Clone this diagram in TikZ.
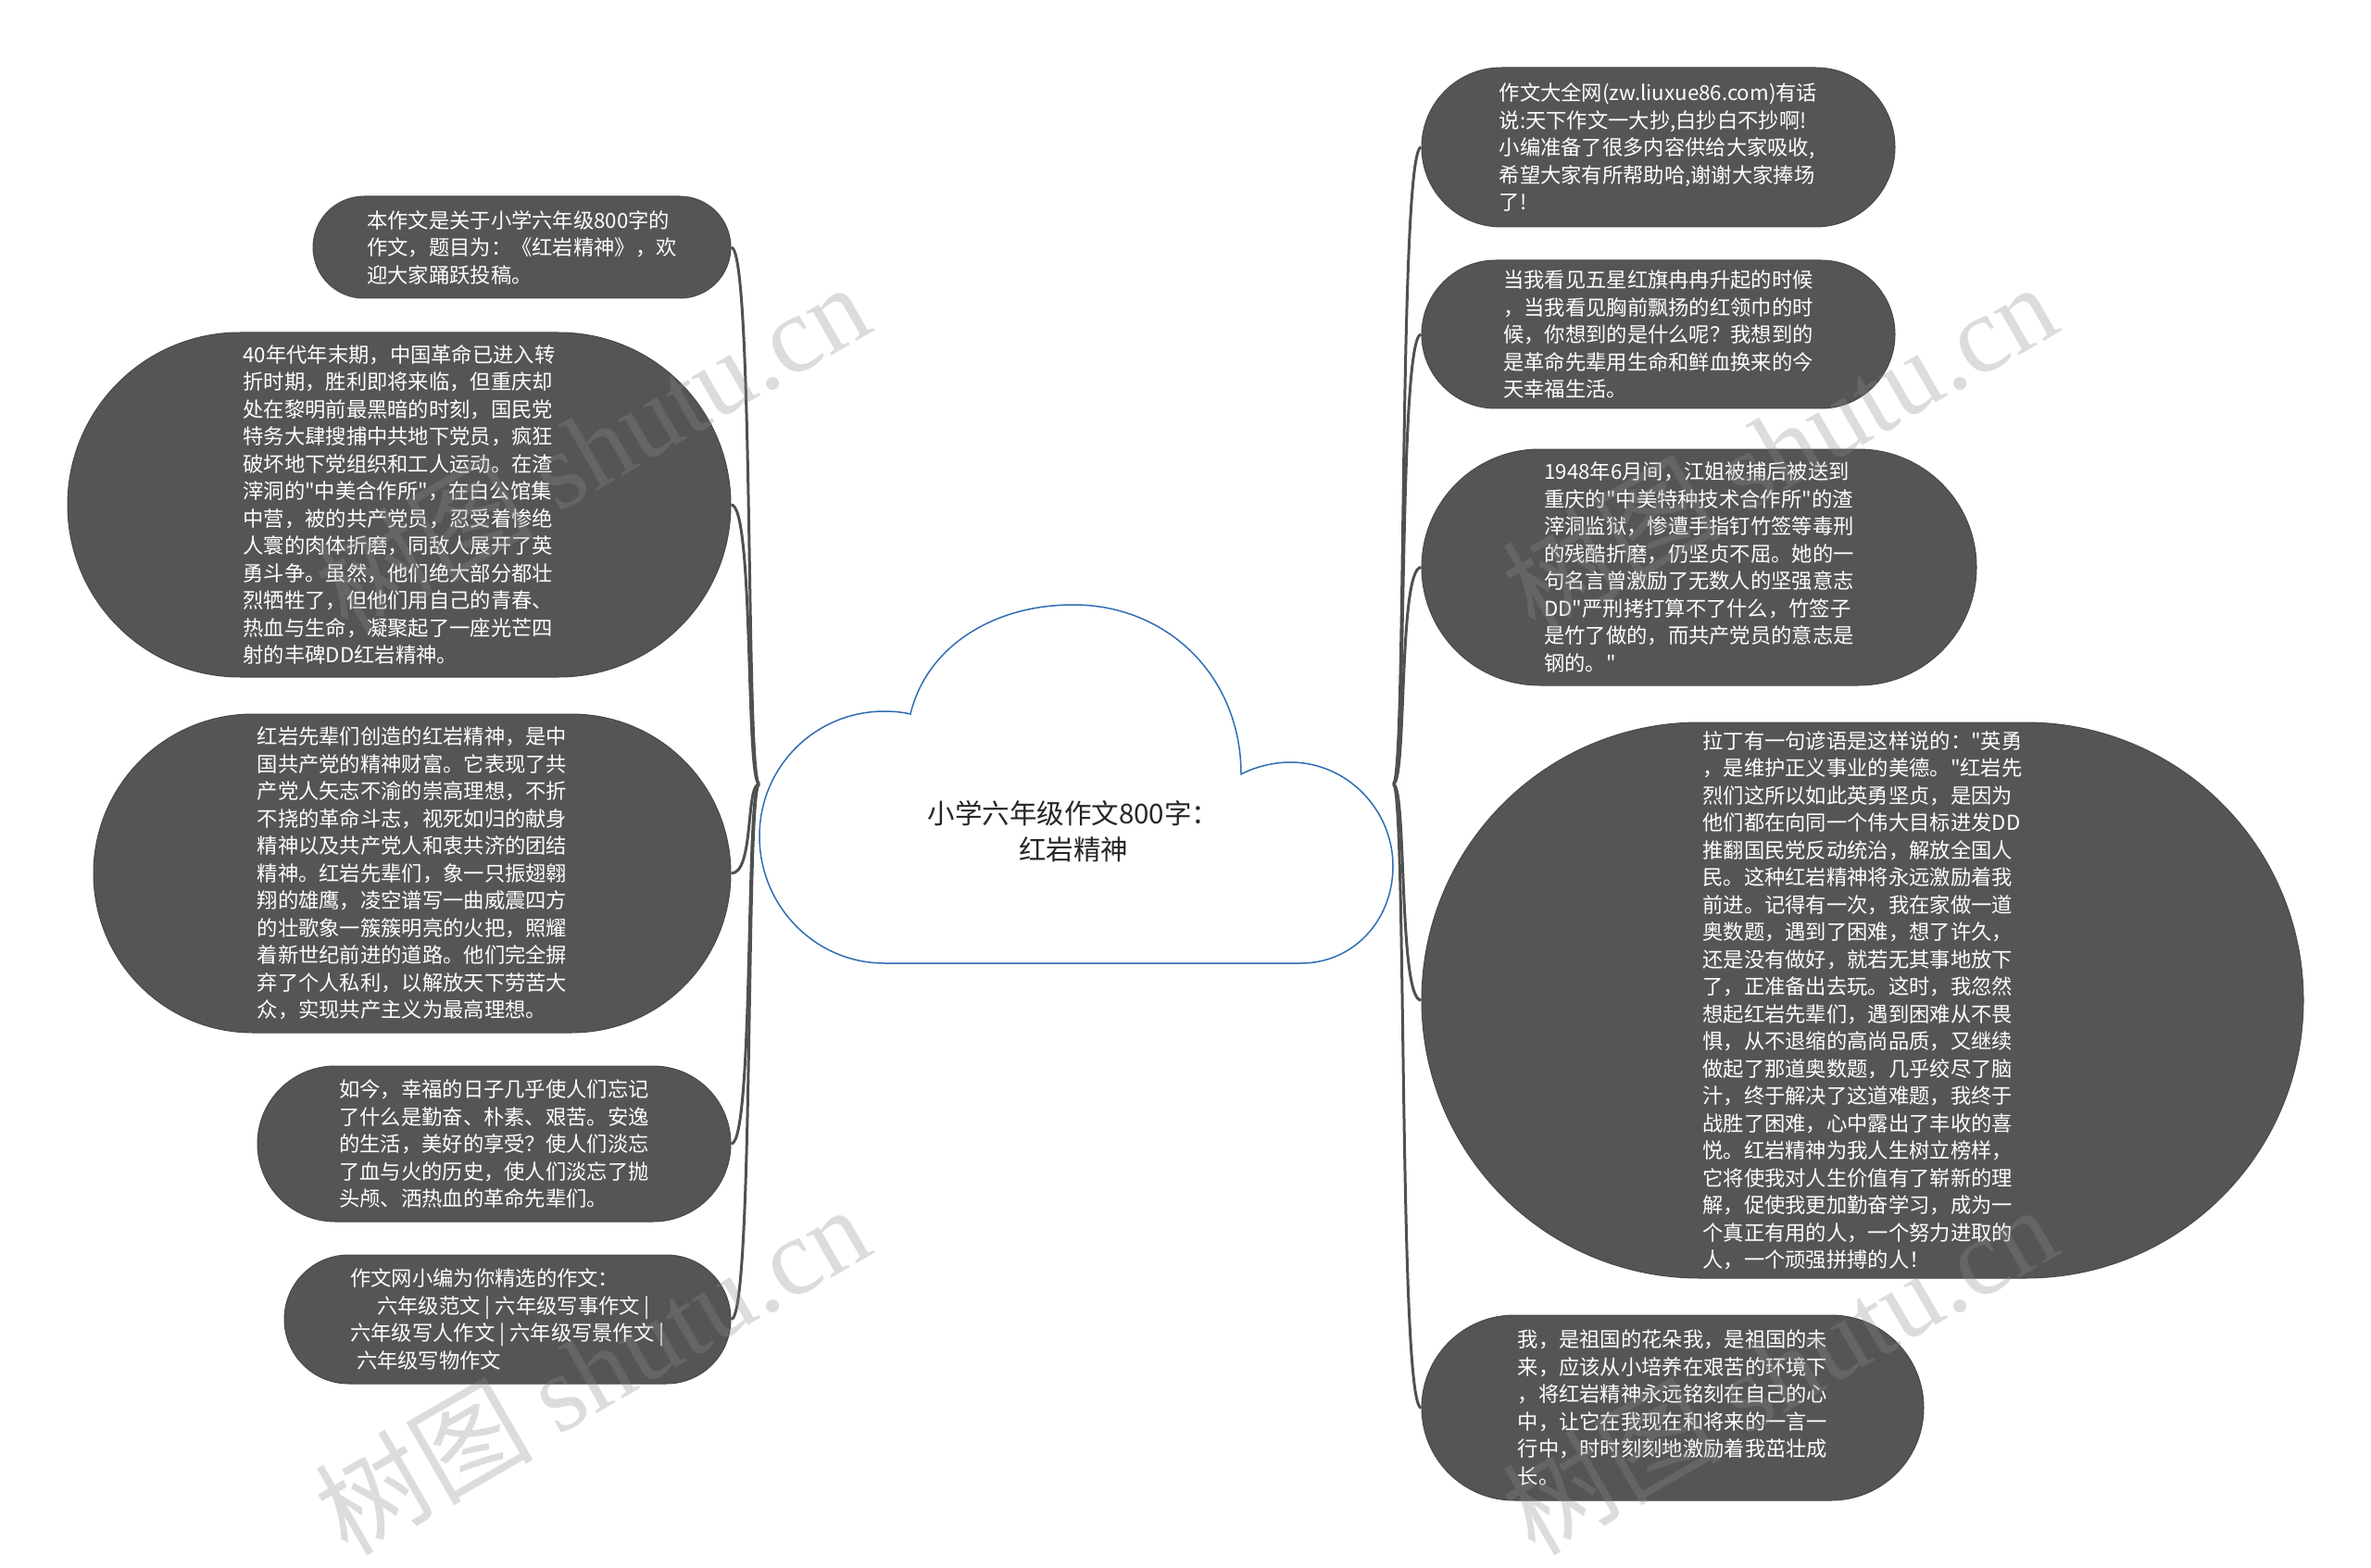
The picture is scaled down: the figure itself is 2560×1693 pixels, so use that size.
\documentclass[tikz,border=0pt]{standalone}
\usepackage{fontspec}
\setmainfont{Noto Sans CJK SC}
\newfontfamily\cjk{Noto Sans CJK SC}
\newfontfamily\wmlatin{Liberation Serif}
\usetikzlibrary{shapes.misc}

\definecolor{bubblegray}{HTML}{555555}
\definecolor{linkgray}{HTML}{505050}
\definecolor{cloudblue}{HTML}{2F6DB3}
\definecolor{wmgray}{HTML}{8C8C8C}

\tikzset{
    bubble/.style={rounded rectangle, fill=bubblegray, draw=bubblegray!85!black, line width=1,
        text=white, align=left, inner sep=0pt, font=\cjk\fontsize{22.3}{29.5}\selectfont},
    link/.style={draw=linkgray, line width=3},
    watermark/.style={anchor=south west, rotate=30, inner sep=0pt, text=wmgray, text opacity=0.3,
        font=\cjk\fontsize{118}{118}\selectfont}
}

\begin{document}
\begin{tikzpicture}[x=1pt, y=-1pt]
    %Hintergrund
    \fill[white] (0,0) rectangle (2560,1693);
    \useasboundingbox (0,0) rectangle (2560,1693);

    %Wolke in der Mitte
    \node[minimum width=684, minimum height=387, inner sep=0pt] (root) at (1162,846.5) {};
    \draw[cloudblue, line width=1.5] (955,1040)
        .. controls (880,1040) and (820,978) .. (820,903)
        .. controls (820,828) and (880,768) .. (955,768)
        .. controls (965,768) and (975,769) .. (983,771)
        .. controls (1000,700) and (1070,653) .. (1159,653)
        .. controls (1260,653) and (1340,730) .. (1340,836)
        .. controls (1355,828) and (1375,823) .. (1393,823)
        .. controls (1455,823) and (1504,875) .. (1504,935)
        .. controls (1504,995) and (1460,1040) .. (1405,1040)
        -- cycle;
    \node[align=center, text=black!85, font=\cjk\fontsize{29.5}{39}\selectfont] (title) at (1159,898)
        {小学六年级作文800字：\\红岩精神};

    %Knoten links
    \node[bubble, minimum width=451, minimum height=110] (intro) at (563.5,267)
        {本作文是关于小学六年级800字的\\作文，题目为：《红岩精神》，欢\\迎大家踊跃投稿。};
    \node[bubble, minimum width=716, minimum height=372] (history) at (431,545)
        {40年代年末期，中国革命已进入转\\折时期，胜利即将来临，但重庆却\\处在黎明前最黑暗的时刻，国民党\\特务大肆搜捕中共地下党员，疯狂\\破坏地下党组织和工人运动。在渣\\滓洞的"中美合作所"，在白公馆集\\中营，被的共产党员，忍受着惨绝\\人寰的肉体折磨，同敌人展开了英\\勇斗争。虽然，他们绝大部分都壮\\烈牺牲了，但他们用自己的青春、\\热血与生命，凝聚起了一座光芒四\\射的丰碑DD红岩精神。};
    \node[bubble, minimum width=688, minimum height=344] (spirit) at (445,943)
        {红岩先辈们创造的红岩精神，是中\\国共产党的精神财富。它表现了共\\产党人矢志不渝的崇高理想，不折\\不挠的革命斗志，视死如归的献身\\精神以及共产党人和衷共济的团结\\精神。红岩先辈们，象一只振翅翱\\翔的雄鹰，凌空谱写一曲威震四方\\的壮歌象一簇簇明亮的火把，照耀\\着新世纪前进的道路。他们完全摒\\弃了个人私利，以解放天下劳苦大\\众，实现共产主义为最高理想。};
    \node[bubble, minimum width=511, minimum height=168] (today) at (533.5,1235)
        {如今，幸福的日子几乎使人们忘记\\了什么是勤奋、朴素、艰苦。安逸\\的生活，美好的享受？使人们淡忘\\了血与火的历史，使人们淡忘了抛\\头颅、洒热血的革命先辈们。};
    \node[bubble, minimum width=482, minimum height=139] (picks) at (548,1424.5)
        {作文网小编为你精选的作文：\\\hspace*{1.3em}六年级范文 | 六年级写事作文 |\\六年级写人作文 | 六年级写景作文 |\\\hspace*{0.3em}六年级写物作文};

    %Knoten rechts
    \node[bubble, minimum width=511, minimum height=172] (site) at (1790.5,159)
        {作文大全网(zw.liuxue86.com)有话\\说:天下作文一大抄,白抄白不抄啊!\\小编准备了很多内容供给大家吸收,\\希望大家有所帮助哈,谢谢大家捧场\\了!};
    \node[bubble, minimum width=511, minimum height=160] (flag) at (1790.5,361)
        {当我看见五星红旗冉冉升起的时候\\，当我看见胸前飘扬的红领巾的时\\候，你想到的是什么呢？我想到的\\是革命先辈用生命和鲜血换来的今\\天幸福生活。};
    \node[bubble, minimum width=599, minimum height=255] (jiang) at (1834.5,612.5)
        {1948年6月间，江姐被捕后被送到\\重庆的"中美特种技术合作所"的渣\\滓洞监狱，惨遭手指钉竹签等毒刑\\的残酷折磨，仍坚贞不屈。她的一\\句名言曾激励了无数人的坚强意志\\DD"严刑拷打算不了什么，竹签子\\是竹了做的，而共产党员的意志是\\钢的。"};
    \node[bubble, minimum width=952, minimum height=600] (latin) at (2011,1080)
        {拉丁有一句谚语是这样说的："英勇\\，是维护正义事业的美德。"红岩先\\烈们这所以如此英勇坚贞，是因为\\他们都在向同一个伟大目标进发DD\\推翻国民党反动统治，解放全国人\\民。这种红岩精神将永远激励着我\\前进。记得有一次，我在家做一道\\奥数题，遇到了困难，想了许久，\\还是没有做好，就若无其事地放下\\了，正准备出去玩。这时，我忽然\\想起红岩先辈们，遇到困难从不畏\\惧，从不退缩的高尚品质，又继续\\做起了那道奥数题，几乎绞尽了脑\\汁，终于解决了这道难题，我终于\\战胜了困难，心中露出了丰收的喜\\悦。红岩精神为我人生树立榜样，\\它将使我对人生价值有了崭新的理\\解，促使我更加勤奋学习，成为一\\个真正有用的人，一个努力进取的\\人，一个顽强拼搏的人！};
    \node[bubble, minimum width=542, minimum height=200] (future) at (1806,1520)
        {我，是祖国的花朵我，是祖国的未\\来，应该从小培养在艰苦的环境下\\，将红岩精神永远铭刻在自己的心\\中，让它在我现在和将来的一言一\\行中，时时刻刻地激励着我茁壮成\\长。};

    %Verbindungen
    \foreach \n in {intro,history,spirit,today,picks}
        \draw[link] (root.west) .. controls +(-15,0) and +(25,0) .. (\n.east);
    \foreach \n in {site,flag,jiang,latin,future}
        \draw[link] (root.east) .. controls +(15,0) and +(-25,0) .. (\n.west);

    %Wasserzeichen
    \foreach \x/\y [count=\i] in {380/694, 380/1690, 1662/694, 1662/1690}
        \node[watermark] (wm\i) at (\x,\y) {树图 {\wmlatin shutu.cn}};
\end{tikzpicture}
\end{document}
